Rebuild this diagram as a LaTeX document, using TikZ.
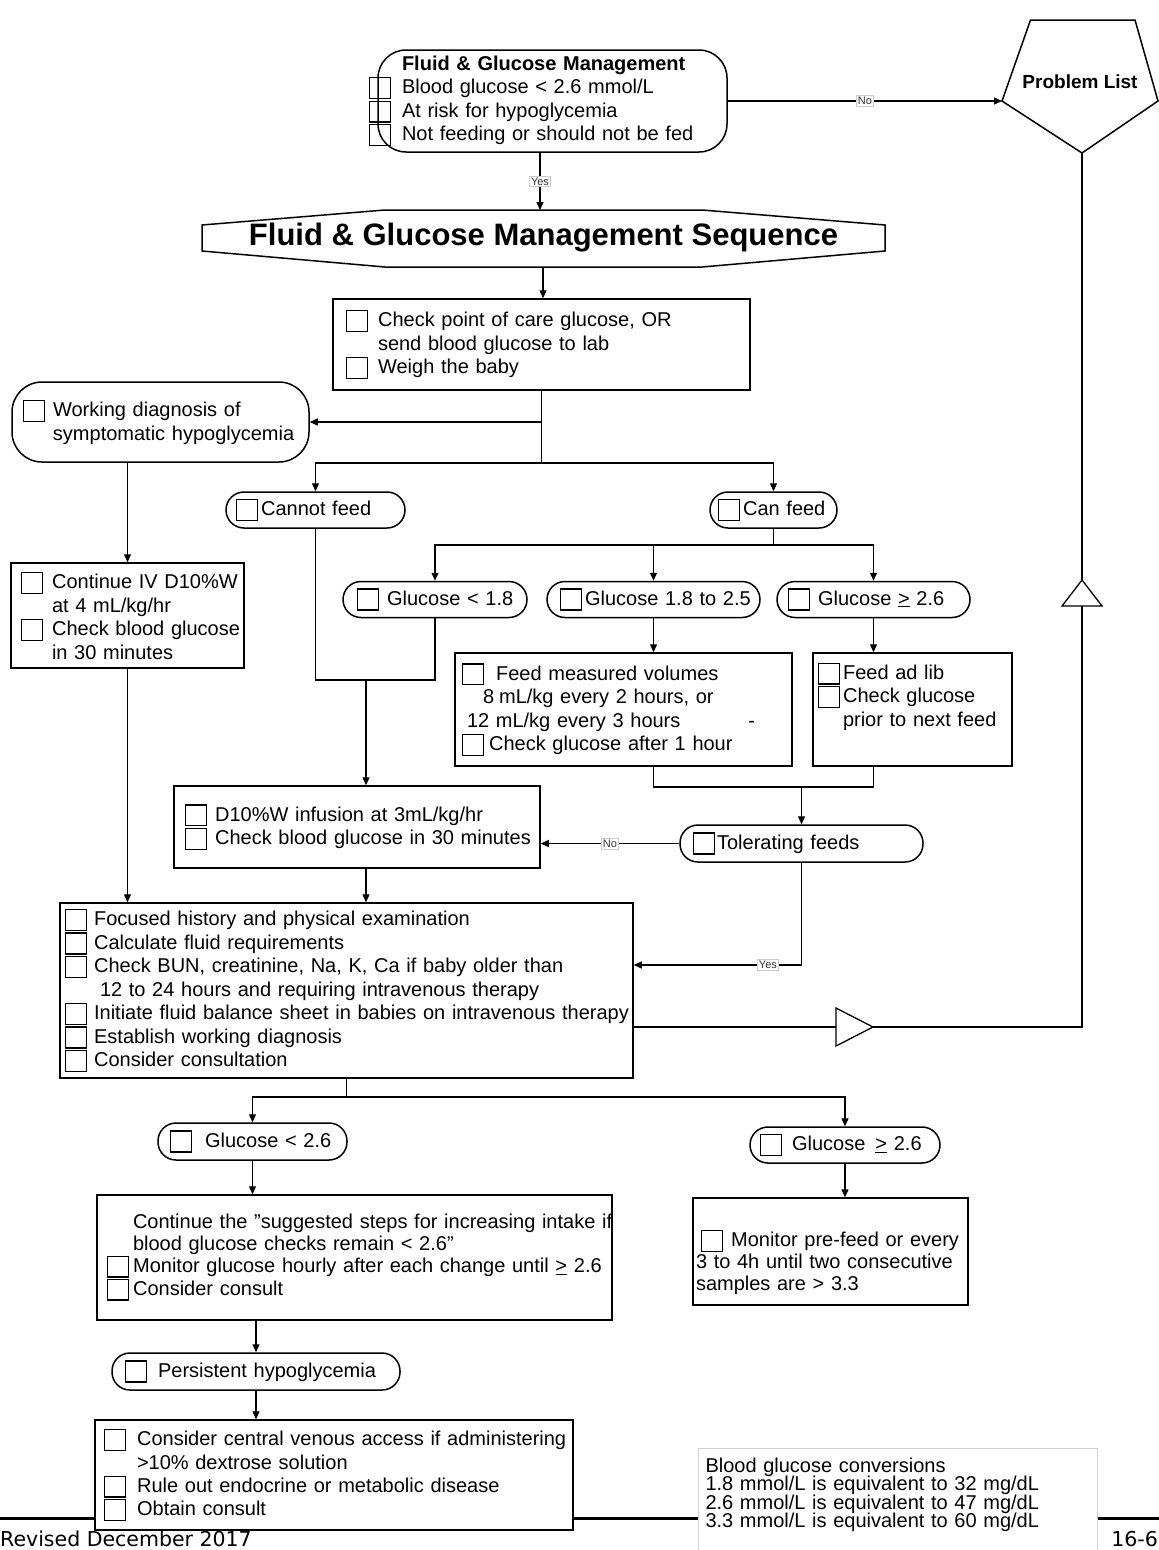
\documentclass[tikz,border=0pt]{standalone}
\usepackage{fontspec}
\setmainfont{Liberation Sans}
\newfontfamily\footfont{DejaVu Sans}
\usetikzlibrary{arrows.meta}
\newcommand\cbx{\raisebox{-4pt}{\setlength{\fboxsep}{0pt}\setlength{\fboxrule}{1.3pt}\fbox{\rule{0pt}{19.5pt}\rule{19.5pt}{0pt}}}}
\newcommand\rowt[1]{\mbox{#1}}
\newcommand\bodyfont{\fontsize{20}{23.5}\selectfont}
\tikzset{
  bx/.style={draw, line width=1.5pt, fill=white, align=left, inner ysep=0pt, font=\bodyfont},
  pill/.style={bx, rounded corners=18pt},
  ln/.style={line width=1.3pt},
  arr/.style={ln, -{Triangle[length=8pt,width=7pt]}},
  lab/.style={fill=white, draw=gray!40, line width=0.5pt, inner sep=1.5pt, font=\fontsize{11}{12}\selectfont, text=black!80},
  shp/.style={line width=1.5pt, fill=white},
  tri/.style={line width=1.3pt, fill=white},
}
\begin{document}
\begin{tikzpicture}[x=1pt,y=-1pt]
\useasboundingbox (0,0) rectangle (1159,1550);
\fill[white] (0,0) rectangle (1159,1550);
% footer rule (behind the boxes)
\draw[line width=3pt] (0,1518) -- (1159,1518);

% entry box
\node[bx, rounded corners=28pt, text width=301pt, inner xsep=24pt, minimum height=102pt] (top) at (552.5,101)
 {\rowt{\textbf{Fluid \& Glucose Management}}\\
  \rowt{\llap{\cbx\hspace{11pt}}Blood glucose < 2.6 mmol/L}\\
  \rowt{\llap{\cbx\hspace{11pt}}At risk for hypoglycemia}\\
  \rowt{\llap{\cbx\hspace{11pt}}Not feeding or should not be fed}};

% problem list pentagon
\draw[shp] (1030.5,20) -- (1135,20) -- (1158,101) -- (1082,153) -- (1002,101) -- cycle;
\node[font=\fontsize{19}{22}\selectfont\bfseries] (pl) at (1080,82) {Problem List};
\coordinate (plL) at (1002,101);
\coordinate (plB) at (1082,153);

% sequence banner
\draw[shp] (202,225) -- (385,210) -- (702,210) -- (885,225) -- (885,251) -- (702,267) -- (385,267) -- (202,251) -- cycle;
\node[font=\fontsize{31}{34}\selectfont\bfseries] (seq) at (543.5,238) {Fluid \& Glucose Management Sequence};
\coordinate (seqT) at (540,210);
\coordinate (seqB) at (543,267);

\node[bx, text width=391pt, inner xsep=13pt, minimum height=91pt] (chk) at (541.5,344.5)
 {\rowt{\cbx\hspace{10pt}Check point of care glucose, OR}\\
  \rowt{\hspace*{32pt}send blood glucose to lab}\\
  \rowt{\cbx\hspace{10pt}Weigh the baby}};

\node[bx, rounded corners=30pt, text width=275pt, inner xsep=11pt, minimum height=80pt] (work) at (160.5,422)
 {\rowt{\cbx\hspace{8pt}Working diagnosis of}\\
  \rowt{\hspace*{30pt}symptomatic hypoglycemia}};

\node[pill, text width=159pt, inner xsep=10pt, minimum height=36pt] (cannot) at (315.5,510)
 {\rowt{\cbx\hspace{3pt}Cannot feed}};
\node[pill, text width=111pt, inner xsep=8pt, minimum height=36pt] (can) at (773.5,510)
 {\rowt{\cbx\hspace{3pt}Can feed}};

\node[bx, text width=213pt, inner xsep=10pt, minimum height=105pt] (cont) at (127.5,615.5)
 {\rowt{\cbx\hspace{9pt}Continue IV D10\%W}\\
  \rowt{\hspace*{31pt}at 4 mL/kg/hr}\\
  \rowt{\cbx\hspace{9pt}Check blood glucose}\\
  \rowt{\hspace*{31pt}in 30 minutes}};

\node[pill, text width=156pt, inner xsep=14pt, minimum height=36pt] (g18) at (435,599.5)
 {\rowt{\cbx\hspace{8pt}Glucose < 1.8}};
\node[pill, text width=187pt, inner xsep=13pt, minimum height=36pt] (g25) at (653.5,599.5)
 {\rowt{\cbx\hspace{3pt}Glucose 1.8 to 2.5}};
\node[pill, text width=171pt, inner xsep=11pt, minimum height=36pt] (g26) at (873.5,599.5)
 {\rowt{\cbx\hspace{8pt}Glucose \underline{>} 2.6}};

\node[bx, text width=323pt, inner xsep=7pt, minimum height=113pt] (fm) at (623.5,709.5)
 {\rowt{\cbx\hspace{12pt}Feed measured volumes}\\
  \rowt{\hspace*{21pt}8\hspace{5pt}mL/kg every 2 hours, or}\\
  \rowt{\hspace*{5pt}12 mL/kg every 3 hours\hspace{68pt}-}\\
  \rowt{\cbx\hspace{5pt}Check glucose after 1 hour}};
\node[bx, text width=189pt, inner xsep=5pt, minimum height=113pt] (fa) at (912.5,709.5)
 {\rowt{\cbx\hspace{3pt}Feed ad lib}\\
  \rowt{\cbx\hspace{3pt}Check glucose}\\
  \rowt{\hspace*{25pt}prior to next feed\rule[-30pt]{0pt}{0pt}}};

\node[pill, text width=217pt, inner xsep=13pt, minimum height=37pt] (tol) at (801.5,843.5)
 {\rowt{\cbx\hspace{2pt}Tolerating feeds}};

\node[bx, text width=344pt, inner xsep=11pt, minimum height=82pt] (d10) at (357,827)
 {\rowt{\cbx\hspace{8pt}D10\%W infusion at 3mL/kg/hr}\\
  \rowt{\cbx\hspace{8pt}Check blood glucose in 30 minutes}};

\node[bx, text width=563pt, inner xsep=5pt, minimum height=175pt] (foc) at (346.5,990.5)
 {\rowt{\cbx\hspace{7pt}Focused history and physical examination}\\
  \rowt{\cbx\hspace{7pt}Calculate fluid requirements}\\
  \rowt{\cbx\hspace{7pt}Check BUN, creatinine, Na, K, Ca if baby older than}\\
  \rowt{\hspace*{35pt}12 to 24 hours and requiring intravenous therapy}\\
  \rowt{\cbx\hspace{7pt}Initiate fluid balance sheet in babies on intravenous therapy}\\
  \rowt{\cbx\hspace{7pt}Establish working diagnosis}\\
  \rowt{\cbx\hspace{7pt}Consider consultation}};

\node[pill, text width=165pt, inner xsep=12pt, minimum height=37pt] (ga) at (252.5,1141.5)
 {\rowt{\cbx\hspace{13pt}Glucose < 2.6}};
\node[pill, text width=170pt, inner xsep=10pt, minimum height=36pt] (gb) at (845,1145)
 {\rowt{\cbx\hspace{10pt}Glucose\hspace{10pt}\underline{>} 2.6}};

\node[bx, font={\fontsize{20}{21.8}\selectfont}, text width=495pt, inner xsep=10pt, minimum height=125pt] (cb) at (354.5,1257.5)
 {\rowt{\hspace*{26pt}Continue the "suggested steps for increasing intake if}\\
  \rowt{\hspace*{26pt}blood glucose checks remain < 2.6"}\\
  \rowt{\cbx\hspace{4pt}Monitor glucose hourly after each change until \underline{>} 2.6}\\
  \rowt{\cbx\hspace{4pt}Consider consult}};

\node[bx, font={\fontsize{20}{22}\selectfont}, text width=269pt, inner xsep=3pt, minimum height=107pt] (mp) at (830.5,1251.5)
 {\rowt{\hspace*{5pt}\cbx\hspace{8pt}Monitor pre-feed or every\rule{0pt}{39pt}}\\
  \rowt{3 to 4h until two consecutive}\\
  \rowt{samples are > 3.3}};

\node[pill, text width=262pt, inner xsep=13pt, minimum height=37pt] (ph) at (256,1371.5)
 {\rowt{\cbx\hspace{11pt}Persistent hypoglycemia}};

\node[bx, font={\fontsize{20}{23.3}\selectfont}, text width=460pt, inner xsep=9pt, minimum height=110pt] (fin) at (334,1475)
 {\rowt{\cbx\hspace{11pt}Consider central venous access if administering}\\
  \rowt{\hspace*{33pt}>10\% dextrose solution}\\
  \rowt{\cbx\hspace{11pt}Rule out endocrine or metabolic disease}\\
  \rowt{\cbx\hspace{11pt}Obtain consult}};

\node[draw=gray!35, line width=1pt, fill=white, anchor=north west, text width=385pt, inner xsep=7pt, inner ysep=9pt, align=left,
      font={\fontsize{20}{18.6}\selectfont\lineskiplimit=-20pt}] (conv) at (698,1448)
 {\rowt{Blood glucose conversions}\\
  \rowt{1.8 mmol/L is equivalent to 32 mg/dL}\\
  \rowt{2.6 mmol/L is equivalent to 47 mg/dL}\\
  \rowt{3.3 mmol/L is equivalent to 60 mg/dL\rule[-40pt]{0pt}{0pt}}};

\node[anchor=base west, inner sep=0pt, font={\footfont\fontsize{20.5}{24}\selectfont}] (rev) at (0,1546) {Revised December 2017};
\node[anchor=base east, inner sep=0pt, font={\footfont\fontsize{20.5}{24}\selectfont}] (pg) at (1158,1546) {16-6};

% connectors
\draw[arr] ([xshift=-12.5pt]top.south) -- (seqT) node[lab,midway] (yes1) {Yes};
\draw[arr] (top.east) -- (plL) node[lab,midway] (no1) {No};
\draw[arr] (seqB) -- (seqB |- chk.north);
\coordinate (br1) at (541.5,463);
\draw[ln] (chk.south) -- (br1);
\draw[arr] (chk.south |- work.east) -- (work.east);
\draw[arr] (br1) -| (cannot.north);
\draw[arr] (br1) -| (can.north);
\draw[arr] (cont.north |- work.south) -- (cont.north);
\coordinate (br2) at (773.5,545);
\draw[ln] (can.south) -- (br2);
\draw[arr] (br2) -| (g18.north);
\draw[arr] (br2) -| (g25.north);
\draw[arr] (br2) -| (g26.north);
\draw[arr] (g25.south) -- (g25.south |- fm.north);
\draw[arr] (g26.south) -- (g26.south |- fa.north);
\coordinate (j1) at (315.5,680);
\coordinate (j3) at (366,680);
\draw[ln] (cannot.south) -- (j1) -| (g18.south);
\draw[arr] (j3) -- (j3 |- d10.north);
\coordinate (j4) at (801.5,787);
\draw[ln] (g25.south |- fm.south) |- (j4) -| (g26.south |- fa.south);
\draw[arr] (j4) -- (tol.north);
\draw[arr] (tol.west) -- (tol.west -| d10.east) node[lab,midway] (no2) {No};
\draw[arr] (cont.south) -- (cont.south |- foc.north);
\draw[arr] (j3 |- d10.south) -- (j3 |- foc.north);
\coordinate (j6) at (801.5,965);
\draw[arr] (tol.south) |- (j6 -| foc.east) node[lab,pos=0.6] (yes2) {Yes};
\coordinate (j7) at (1082,1027);
\draw[ln] (foc.east |- j7) -- (j7) -- (plB);
\draw[tri] (836,1008) -- (873,1027) -- (836,1046) -- cycle;
\draw[tri] (1062,606) -- (1082,580) -- (1102,606) -- cycle;
\coordinate (j8) at (346.5,1097);
\draw[ln] (foc.south) -- (j8);
\draw[arr] (j8) -| (ga.north);
\draw[arr] (j8) -| (gb.north);
\draw[arr] (ga.south) -- (ga.south |- cb.north);
\draw[arr] (gb.south) -- (gb.south |- mp.north);
\draw[arr] (ph.north |- cb.south) -- (ph.north);
\draw[arr] (ph.south) -- (ph.south |- fin.north);
\end{tikzpicture}
\end{document}
